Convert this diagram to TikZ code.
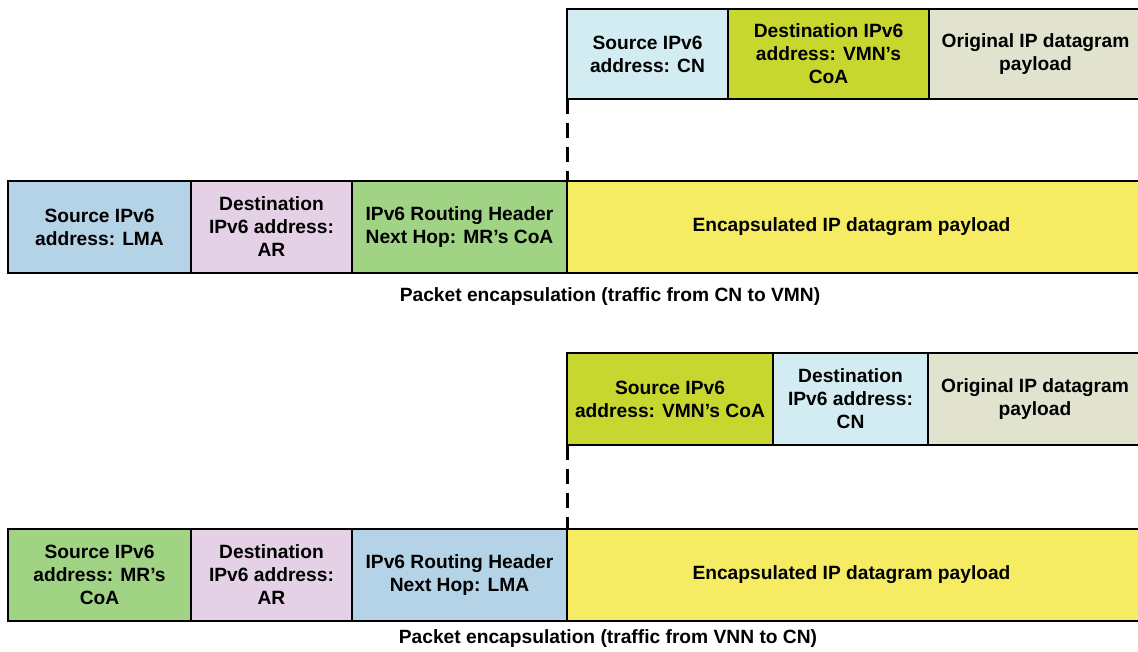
\documentclass[tikz,border=0pt]{standalone}
\usepackage{fontspec}
\setmainfont{Liberation Sans}
\definecolor{cnblue}{HTML}{D2ECF2}
\definecolor{vmngreen}{HTML}{C8D630}
\definecolor{origgray}{HTML}{E1E3CE}
\definecolor{lmablue}{HTML}{B5D3E7}
\definecolor{arpink}{HTML}{E4D1E6}
\definecolor{rtgreen}{HTML}{A0D384}
\definecolor{payyellow}{HTML}{F5EC64}
\begin{document}
\begin{tikzpicture}[x=1pt,y=-1pt,
  fld/.style={draw=black, line width=2.4pt, anchor=north west, align=center,
    font=\bfseries\fontsize{19.2}{23}\selectfont, inner sep=0pt, outer sep=0pt},
  captxt/.style={font=\bfseries\fontsize{19.2}{23}\selectfont},
  guide/.style={line width=3pt, dash pattern=on 15pt off 9pt}]
\useasboundingbox (0,0) rectangle (1138,651);
\clip (0,0) rectangle (1138,651);
% ---------- section 1 ----------
\node[fld, fill=cnblue, minimum width=161pt, minimum height=90pt] (s1) at (567,9) {Source IPv6\\address: CN};
\node[fld, fill=vmngreen, minimum width=201pt, minimum height=90pt] (d1) at (728,9) {Destination IPv6\\address: VMN's\\CoA};
\node[fld, fill=origgray, minimum width=213pt, minimum height=90pt] (o1) at (929,9) {Original IP datagram\\payload};
\node[fld, fill=lmablue, minimum width=183pt, minimum height=92pt] (a1) at (8,181) {Source IPv6\\address: LMA};
\node[fld, fill=arpink, minimum width=161pt, minimum height=92pt] (b1) at (191,181) {Destination\\IPv6 address:\\AR};
\node[fld, fill=rtgreen, minimum width=215pt, minimum height=92pt] (c1) at (352,181) {IPv6 Routing Header\\Next Hop: MR's CoA};
\node[fld, fill=payyellow, minimum width=575pt, minimum height=92pt] (e1) at (567,181) {\hspace*{-2pt}Encapsulated IP datagram payload\hspace*{4pt}};
\draw[guide] (s1.south west) -- (e1.north west);
\node[captxt] (cap1) at (610,297) {Packet encapsulation (traffic from CN to VMN)};
% ---------- section 2 ----------
\node[fld, fill=vmngreen, minimum width=206pt, minimum height=92pt] (s2) at (567,353) {Source IPv6\\address: VMN's CoA};
\node[fld, fill=cnblue, minimum width=155pt, minimum height=92pt] (d2) at (773,353) {Destination\\IPv6 address:\\CN};
\node[fld, fill=origgray, minimum width=214pt, minimum height=92pt] (o2) at (928,353) {Original IP datagram\\payload};
\node[fld, fill=rtgreen, minimum width=183pt, minimum height=92pt] (a2) at (8,529) {Source IPv6\\address: MR's\\CoA};
\node[fld, fill=arpink, minimum width=161pt, minimum height=92pt] (b2) at (191,529) {Destination\\IPv6 address:\\AR};
\node[fld, fill=lmablue, minimum width=215pt, minimum height=92pt] (c2) at (352,529) {IPv6 Routing Header\\Next Hop: LMA};
\node[fld, fill=payyellow, minimum width=575pt, minimum height=92pt] (e2) at (567,529) {\hspace*{-2pt}Encapsulated IP datagram payload\hspace*{4pt}};
\draw[guide] (s2.south west) -- (e2.north west);
\node[captxt] (cap2) at (608,639) {Packet encapsulation (traffic from VNN to CN)};
\end{tikzpicture}
\end{document}
